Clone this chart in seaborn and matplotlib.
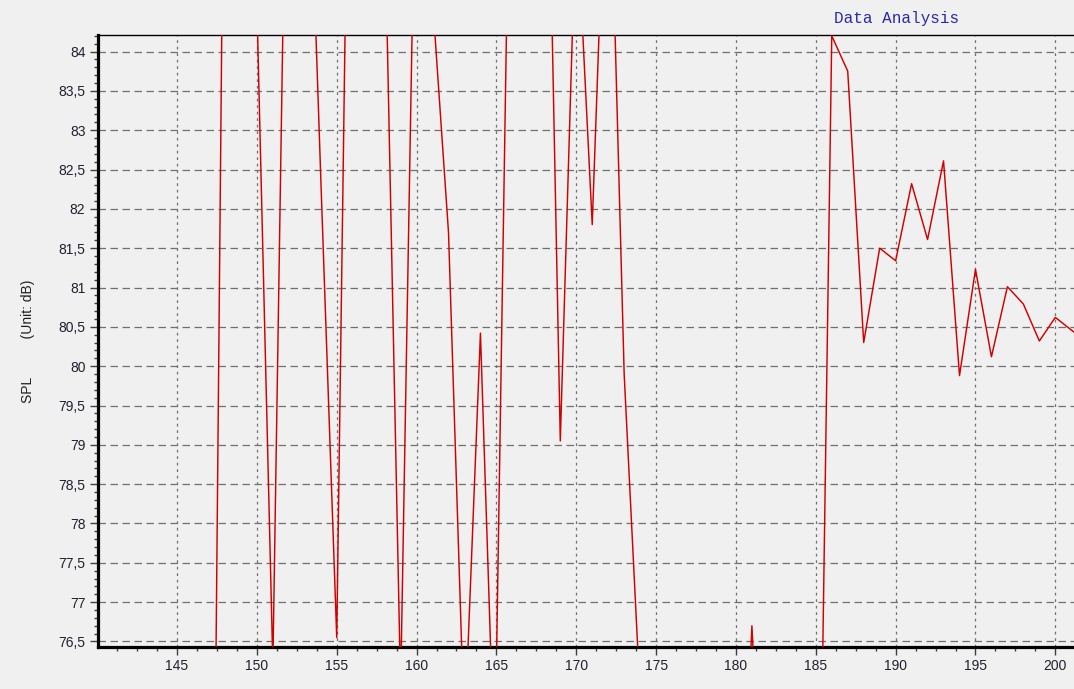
import matplotlib
matplotlib.use("Agg")
import matplotlib.pyplot as plt
import seaborn as sns
import pandas as pd
from matplotlib.ticker import MultipleLocator, FuncFormatter

# ---- data ----
freq = [140, 141, 142, 143, 144, 145, 146, 147, 148, 149, 150, 151, 152, 153,
        154, 155, 156, 157, 158, 159, 160, 161, 162, 163, 164, 164.8, 165, 166,
        167, 168, 169, 170, 171, 172, 173, 174, 175, 176, 177, 178, 179, 180,
        181, 182, 183, 184, 185, 186, 187, 188, 189, 190, 191, 192, 193, 194,
        195, 196, 197, 198, 199, 200, 201, 202]
spl = [71.0, 70.2, 69.5, 68.8, 68.0, 67.4, 67.0, 66.7, 88.6, 89.5, 84.6, 76.2,
       89.1, 88.4, 82.4, 76.55, 91.3, 90.0, 85.8, 75.9, 87.5, 84.66, 81.7, 75.3,
       80.42, 75.4, 76.2, 89.0, 91.0, 89.3, 79.05, 85.9, 81.8, 87.5, 79.9, 75.8,
       74.5, 73.0, 72.0, 71.5, 71.0, 72.0, 76.7, 72.5, 71.5, 70.8, 70.3, 84.2,
       83.75, 80.3, 81.5, 81.34, 82.32, 81.61, 82.61, 79.88, 81.23, 80.12, 81.01,
       80.79, 80.32, 80.62, 80.46, 80.3]
x_ticks = [145, 150, 155, 160, 165, 170, 175, 180, 185, 190, 195, 200]
title_text = "Data Analysis"
y_label = "SPL          (Unit: dB)"

df = pd.DataFrame({"freq": freq, "spl": spl})

sns.set_theme(style="ticks", rc={
    "figure.facecolor": "#F0F0F0",
    "axes.facecolor": "#F0F0F0",
})
plt.rcParams["font.family"] = ["Liberation Sans", "DejaVu Sans"]

fig = plt.figure(figsize=(10.74, 6.89), dpi=100)
ax = fig.add_axes([98 / 1074, 1 - 647 / 689, 1 - 98 / 1074, (647 - 35) / 689])

sns.lineplot(data=df, x="freq", y="spl", ax=ax, color="#D00000",
             linewidth=1.05, estimator=None, sort=False, zorder=3)

ax.set_xlim(140.05, 201.17)
ax.set_ylim(76.43, 84.21)

ax.set_xticks(x_ticks)
ax.xaxis.set_minor_locator(MultipleLocator(1.25))
ax.yaxis.set_major_locator(MultipleLocator(0.5))
ax.yaxis.set_minor_locator(MultipleLocator(0.1))


def comma_fmt(v, pos):
    s = ("%.1f" % v)
    if s.endswith(".0"):
        s = s[:-2]
    return s.replace(".", ",")


ax.yaxis.set_major_formatter(FuncFormatter(comma_fmt))

ax.tick_params(axis="both", which="major", direction="out", length=6,
               width=1, color="#404040", labelsize=10, labelcolor="#202030", pad=3)
ax.tick_params(axis="both", which="minor", direction="out", length=3,
               width=1, color="#404040")

ax.grid(False)
ax.yaxis.grid(True, which="major", color="#707070", linewidth=0.9,
              linestyle=(0, (6, 3.6)), zorder=1)
ax.xaxis.grid(True, which="major", color="#707070", linewidth=0.9,
              linestyle=(0, (2.2, 3)), zorder=1)
ax.set_axisbelow(True)

for side in ["left", "bottom"]:
    ax.spines[side].set_linewidth(2.3)
    ax.spines[side].set_color("black")
ax.spines["top"].set_visible(True)
ax.spines["top"].set_linewidth(1.0)
ax.spines["top"].set_color("black")
ax.spines["right"].set_visible(False)

ax.set_xlabel("")
ax.set_ylabel(y_label, fontsize=10, color="#202020")
ax.yaxis.set_label_coords(-0.065, 0.5)

ax.text(0.818, 1.027, title_text, transform=ax.transAxes, ha="center",
        va="center", color="#2A2AA8", fontsize=11.5,
        family=["Liberation Mono", "DejaVu Sans Mono"])

fig.savefig("out.png", dpi=100, facecolor=fig.get_facecolor())
